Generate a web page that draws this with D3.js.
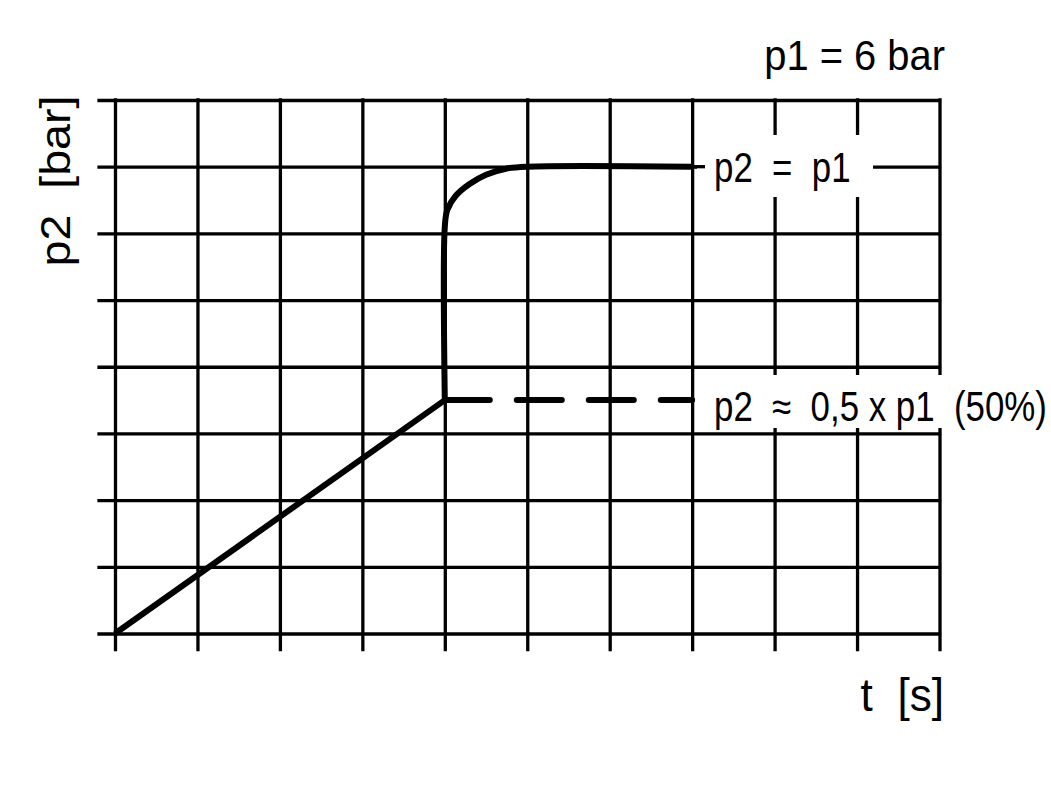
<!DOCTYPE html>
<html>
<head>
<meta charset="utf-8">
<script src="https://cdn.jsdelivr.net/npm/d3@7"></script>
<style>
  html, body { margin: 0; padding: 0; background: #fff; }
  svg { display: block; }
  text { font-family: 'Liberation Sans', Arial, sans-serif; fill: #000; white-space: pre; }
</style>
</head>
<body>
<script>
  const width = 1051
  const height = 803

  // grid ticks
  const xTicks = [0, 1, 2, 3, 4, 5, 6, 7, 8, 9, 10]
  const yTicks = [0, 1, 2, 3, 4, 5, 6, 7, 8]

  // p2 curve (t, p2)
  const rampT = [0, 4]
  const rampP = [0, 3.5]
  const fullT = [4, 4, 4.03, 4.13, 4.3, 4.5, 4.74, 5, 7]
  const fullP = [3.5, 6.1, 6.35, 6.56, 6.74, 6.88, 6.97, 7, 7]
  const halfT = [4, 7]
  const halfP = [3.5, 3.5]

  const plotLeft = 115
  const plotRight = 939.5
  const plotTop = 100
  const plotBottom = 633.5

  const svg = d3.select('body')
    .append('svg')
    .attr('width', width)
    .attr('height', height)

  const x = d3.scaleLinear().domain([0, 10]).range([plotLeft, plotRight])
  const y = d3.scaleLinear().domain([0, 8]).range([plotBottom, plotTop])

  const xAxis = d3.axisBottom(x)
    .tickValues(xTicks)
    .tickSizeInner(-(plotBottom - plotTop))
    .tickSizeOuter(0)
    .tickFormat('')
  const yAxis = d3.axisLeft(y)
    .tickValues(yTicks)
    .tickSizeInner(-(plotRight - plotLeft))
    .tickSizeOuter(0)
    .tickFormat('')

  const gx = svg.append('g')
    .attr('transform', `translate(0, ${plotBottom})`)
    .call(xAxis)
  gx.selectAll('.tick line').attr('y1', 16)

  const gy = svg.append('g')
    .attr('transform', `translate(${plotLeft}, 0)`)
    .call(yAxis)
  gy.selectAll('.tick line').attr('x1', -16)

  svg.selectAll('.domain').remove()
  svg.selectAll('.tick line')
    .attr('stroke', '#000')
    .attr('stroke-width', 3.3)
    .attr('stroke-linecap', 'square')

  // white label backgrounds cut the grid
  svg.append('rect')
    .attr('x', 697).attr('y', 135).attr('width', 176).attr('height', 62)
    .attr('fill', '#fff')
  svg.append('rect')
    .attr('x', 697).attr('y', 375).attr('width', 354).attr('height', 53)
    .attr('fill', '#fff')
  // short bit of grid line left of "p2 = p1"
  svg.append('line')
    .attr('x1', x(7)).attr('x2', 705)
    .attr('y1', y(7)).attr('y2', y(7))
    .attr('stroke', '#000').attr('stroke-width', 3.3)

  const line = d3.line()
    .x(function (d) { return x(d[0]) })
    .y(function (d) { return y(d[1]) })

  svg.append('path')
    .datum(d3.zip(rampT, rampP))
    .attr('d', line)
    .attr('fill', 'none')
    .attr('stroke', '#000')
    .attr('stroke-width', 6)

  svg.append('path')
    .datum(d3.zip(fullT, fullP))
    .attr('d', line.curve(d3.curveCatmullRom.alpha(0.5)))
    .attr('fill', 'none')
    .attr('stroke', '#000')
    .attr('stroke-width', 6)

  svg.append('path')
    .datum(d3.zip(halfT, halfP))
    .attr('d', line.curve(d3.curveLinear))
    .attr('fill', 'none')
    .attr('stroke', '#000')
    .attr('stroke-width', 6)
    .attr('stroke-linecap', 'round')
    .attr('stroke-dasharray', '45,27')

  // texts (sx squeezes or stretches the glyphs along the line of text)
  const label = function (txt, transform, size, anchor) {
    return svg.append('text')
      .attr('transform', transform)
      .attr('font-size', size)
      .attr('text-anchor', anchor || 'start')
      .text(txt)
  }

  label('p1 = 6 bar', 'translate(945, 70) scale(0.95, 1)', 42, 'end')
  label('p2  =  p1', 'translate(714, 182) scale(0.83, 1)', 42)
  label('p2  \u2248  0,5 x p1  (50%)', 'translate(714, 421) scale(0.83, 1)', 42)
  label('t  [s]', 'translate(944, 711) scale(0.96, 1)', 46, 'end')
  label('p2  [bar]', 'translate(70, 181) rotate(-90) scale(1.11, 1)', 42, 'middle')
</script>
</body>
</html>
